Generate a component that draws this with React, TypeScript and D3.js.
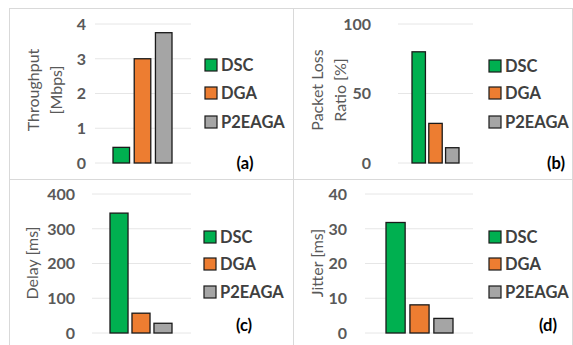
import React from 'react';
import * as d3 from 'd3';

const methods = ['DSC', 'DGA', 'P2EAGA'];
const colors = ['#00b050', '#ed7d31', '#a5a5a5'];

const throughput = [0.45, 3.0, 3.75];
const packetLoss = [80, 28.5, 11];
const delay = [345, 57, 28];
const jitter = [31.8, 8.1, 4.2];

const throughputTicks = [0, 1, 2, 3, 4];
const packetLossTicks = [0, 50, 100];
const delayTicks = [0, 100, 200, 300, 400];
const jitterTicks = [0, 10, 20, 30, 40];

const FONT = 'Lato, "Open Sans", sans-serif';

type PanelProps = {
  x0: number; y0: number; w: number; h: number;
  values: number[]; ticks: number[];
  title: string[]; tag: string;
  yTop: number; yBottom: number;
  gridX: [number, number]; barX: [number, number]; barPad: number;
  tickX: number; titleX: number[]; titleY: number;
  legendX: number; legendY: number[];
  tagX: number; tagY: number;
};

const Panel = (p: PanelProps) => {
  const y = d3.scaleLinear()
    .domain([0, p.ticks[p.ticks.length - 1]])
    .range([p.yBottom, p.yTop]);
  const x = d3.scaleBand<string>()
    .domain(methods)
    .range(p.barX)
    .paddingInner(p.barPad);

  return (
    <g>
      <rect x={p.x0} y={p.y0} width={p.w} height={p.h} fill="white" stroke="#d9d9d9" strokeWidth={1} />
      {p.ticks.map(t => (
        <g key={t}>
          <line x1={p.gridX[0]} x2={p.gridX[1]} y1={y(t)} y2={y(t)} stroke="#e6e6e6" strokeWidth={1} />
          <text x={p.tickX} y={y(t)} dy="0.36em" textAnchor="end" fontSize={16} fontWeight={700} fill="#595959">{t}</text>
        </g>
      ))}
      {methods.map((m, i) => (
        <rect key={m} x={x(m)} y={y(p.values[i])} width={x.bandwidth()} height={y(0) - y(p.values[i])}
          fill={colors[i]} stroke="#1a1a1a" strokeWidth={1.3} />
      ))}
      {p.title.map((line, i) => (
        <text key={line} transform={`translate(${p.titleX[i]},${p.titleY}) rotate(-90)`} dy="0.36em"
          textAnchor="middle" fontSize={16} fill="#595959">{line}</text>
      ))}
      {methods.map((m, i) => (
        <g key={m} transform={`translate(${p.legendX},${p.legendY[i]})`}>
          <rect x={0} y={-6} width={12} height={12} fill={colors[i]} stroke="#1a1a1a" strokeWidth={1.2} />
          <text x={16} dy="0.36em" fontSize={16.5} fontWeight={700} fill="#404040">{m}</text>
        </g>
      ))}
      <text x={p.tagX} y={p.tagY} dy="0.36em" textAnchor="middle" fontSize={16.5} fontWeight={700} fill="#000">{p.tag}</text>
    </g>
  );
};

export default function App() {
  return (
    <svg width={573} height={345} style={{ position: 'absolute', left: 0, top: 0, fontFamily: FONT }}>
      <rect width={573} height={345} fill="white" />
      <Panel x0={9.5} y0={8.5} w={284} h={171} values={throughput} ticks={throughputTicks}
        title={['Throughput', '[Mbps]']} tag="(a)" yTop={24} yBottom={163}
        gridX={[95, 191]} barX={[113, 172]} barPad={0.22} tickX={86} titleX={[33, 56]} titleY={90}
        legendX={205} legendY={[65, 93, 122]} tagX={245} tagY={163} />
      <Panel x0={293.5} y0={8.5} w={279} h={171} values={packetLoss} ticks={packetLossTicks}
        title={['Packet Loss', 'Ratio [%]']} tag="(b)" yTop={24} yBottom={163}
        gridX={[398, 473]} barX={[412, 459]} barPad={0.2} tickX={371} titleX={[317, 340]} titleY={90}
        legendX={489} legendY={[66, 93, 122]} tagX={556} tagY={163} />
      <Panel x0={9.5} y0={179.5} w={284} h={170} values={delay} ticks={delayTicks}
        title={['Delay [ms]']} tag="(c)" yTop={194} yBottom={333}
        gridX={[92, 191]} barX={[110, 172]} barPad={0.18} tickX={75} titleX={[32]} titleY={263}
        legendX={204} legendY={[237, 264, 292]} tagX={244} tagY={325} />
      <Panel x0={293.5} y0={179.5} w={279} h={170} values={jitter} ticks={jitterTicks}
        title={['Jitter [ms]']} tag="(d)" yTop={194} yBottom={333}
        gridX={[365, 473]} barX={[386, 453]} barPad={0.2} tickX={347} titleX={[317]} titleY={263}
        legendX={489} legendY={[237, 264, 292]} tagX={548} tagY={325} />
    </svg>
  );
}
